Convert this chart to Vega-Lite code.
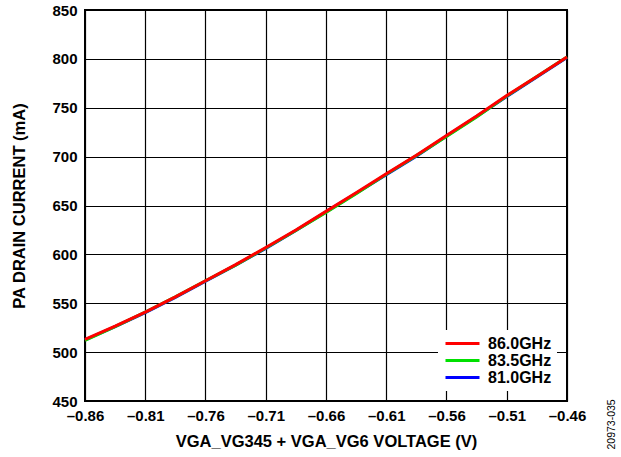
{
  "$schema": "https://vega.github.io/schema/vega-lite/v6.json",
  "width": 482,
  "height": 391,
  "autosize": {"type": "none"},
  "padding": {"left": 85, "top": 10, "right": 54, "bottom": 56},
  "background": "white",
  "config": {
    "font": "Liberation Sans",
    "view": {"stroke": "black", "strokeWidth": 2},
    "axis": {
      "domain": false,
      "ticks": false,
      "grid": true,
      "gridColor": "black",
      "gridOpacity": 1,
      "gridWidth": 1.2,
      "labelFont": "Liberation Sans",
      "labelFontSize": 15,
      "labelFontWeight": "bold",
      "labelColor": "black",
      "titleFont": "Liberation Sans",
      "titleFontSize": 16.5,
      "titleFontWeight": "bold",
      "titleColor": "black"
    },
    "legend": {
      "orient": "bottom-right",
      "offset": 10,
      "fillColor": "white",
      "padding": 5,
      "labelFont": "Liberation Sans",
      "labelFontSize": 16,
      "labelFontWeight": "bold",
      "labelColor": "black",
      "symbolType": "M-2.5,0H2.5",
      "symbolStrokeWidth": 3,
      "symbolSize": 185,
      "symbolOffset": 11,
      "labelOffset": 17,
      "rowPadding": 0
    }
  },
  "title": {
    "text": "20973-035",
    "orient": "right",
    "anchor": "end",
    "angle": 270,
    "align": "left",
    "frame": "bounds",
    "offset": 11,
    "fontSize": 10.5,
    "fontWeight": "normal",
    "font": "Liberation Sans",
    "color": "black"
  },
  "data": {
    "values": [
      {"v": -0.86, "i": 513, "f": "86.0GHz"},
      {"v": -0.835, "i": 526.5, "f": "86.0GHz"},
      {"v": -0.81, "i": 541, "f": "86.0GHz"},
      {"v": -0.785, "i": 556.5, "f": "86.0GHz"},
      {"v": -0.76, "i": 573, "f": "86.0GHz"},
      {"v": -0.735, "i": 589.5, "f": "86.0GHz"},
      {"v": -0.71, "i": 607, "f": "86.0GHz"},
      {"v": -0.685, "i": 625, "f": "86.0GHz"},
      {"v": -0.66, "i": 644, "f": "86.0GHz"},
      {"v": -0.635, "i": 663, "f": "86.0GHz"},
      {"v": -0.61, "i": 682.5, "f": "86.0GHz"},
      {"v": -0.585, "i": 701.5, "f": "86.0GHz"},
      {"v": -0.56, "i": 721.5, "f": "86.0GHz"},
      {"v": -0.535, "i": 741.5, "f": "86.0GHz"},
      {"v": -0.51, "i": 762.5, "f": "86.0GHz"},
      {"v": -0.485, "i": 782, "f": "86.0GHz"},
      {"v": -0.46, "i": 802, "f": "86.0GHz"},
      {"v": -0.86, "i": 512, "f": "83.5GHz"},
      {"v": -0.835, "i": 526, "f": "83.5GHz"},
      {"v": -0.81, "i": 541, "f": "83.5GHz"},
      {"v": -0.785, "i": 556.5, "f": "83.5GHz"},
      {"v": -0.76, "i": 573, "f": "83.5GHz"},
      {"v": -0.735, "i": 589, "f": "83.5GHz"},
      {"v": -0.71, "i": 606.5, "f": "83.5GHz"},
      {"v": -0.685, "i": 624.5, "f": "83.5GHz"},
      {"v": -0.66, "i": 643, "f": "83.5GHz"},
      {"v": -0.635, "i": 662, "f": "83.5GHz"},
      {"v": -0.61, "i": 682, "f": "83.5GHz"},
      {"v": -0.585, "i": 701, "f": "83.5GHz"},
      {"v": -0.56, "i": 720.5, "f": "83.5GHz"},
      {"v": -0.535, "i": 740.5, "f": "83.5GHz"},
      {"v": -0.51, "i": 762, "f": "83.5GHz"},
      {"v": -0.485, "i": 782, "f": "83.5GHz"},
      {"v": -0.46, "i": 802, "f": "83.5GHz"},
      {"v": -0.86, "i": 512.5, "f": "81.0GHz"},
      {"v": -0.835, "i": 526, "f": "81.0GHz"},
      {"v": -0.81, "i": 540.5, "f": "81.0GHz"},
      {"v": -0.785, "i": 556, "f": "81.0GHz"},
      {"v": -0.76, "i": 572.5, "f": "81.0GHz"},
      {"v": -0.735, "i": 589, "f": "81.0GHz"},
      {"v": -0.71, "i": 606, "f": "81.0GHz"},
      {"v": -0.685, "i": 624.5, "f": "81.0GHz"},
      {"v": -0.66, "i": 643.5, "f": "81.0GHz"},
      {"v": -0.635, "i": 662.5, "f": "81.0GHz"},
      {"v": -0.61, "i": 681.5, "f": "81.0GHz"},
      {"v": -0.585, "i": 700.5, "f": "81.0GHz"},
      {"v": -0.56, "i": 721, "f": "81.0GHz"},
      {"v": -0.535, "i": 741, "f": "81.0GHz"},
      {"v": -0.51, "i": 761.5, "f": "81.0GHz"},
      {"v": -0.485, "i": 781.5, "f": "81.0GHz"},
      {"v": -0.46, "i": 801.5, "f": "81.0GHz"}
    ]
  },
  "encoding": {
    "x": {
      "field": "v",
      "type": "quantitative",
      "title": "VGA_VG345 + VGA_VG6 VOLTAGE (V)",
      "scale": {"domain": [-0.86, -0.46], "nice": false, "zero": false},
      "axis": {
        "values": [-0.86, -0.81, -0.76, -0.71, -0.66, -0.61, -0.56, -0.51, -0.46],
        "labelExpr": "datum.value < 0 ? '–' + format(-datum.value, '.2f') : format(datum.value, '.2f')",
        "labelPadding": 7,
        "titlePadding": 10,
        "labelFlush": false
      }
    },
    "y": {
      "field": "i",
      "type": "quantitative",
      "title": "PA DRAIN CURRENT (mA)",
      "scale": {"domain": [450, 850], "nice": false, "zero": false},
      "axis": {
        "values": [450, 500, 550, 600, 650, 700, 750, 800, 850],
        "labelPadding": 8,
        "titlePadding": 24,
        "labelFlush": false
      }
    },
    "color": {
      "field": "f",
      "type": "nominal",
      "title": null,
      "scale": {"domain": ["86.0GHz", "83.5GHz", "81.0GHz"], "range": ["#ff0000", "#00e000", "#0000ff"]}
    }
  },
  "layer": [
    {"transform": [{"filter": "datum.f === '81.0GHz'"}], "mark": {"type": "line", "strokeWidth": 3}},
    {"transform": [{"filter": "datum.f === '83.5GHz'"}], "mark": {"type": "line", "strokeWidth": 3}},
    {"transform": [{"filter": "datum.f === '86.0GHz'"}], "mark": {"type": "line", "strokeWidth": 3}}
  ]
}
